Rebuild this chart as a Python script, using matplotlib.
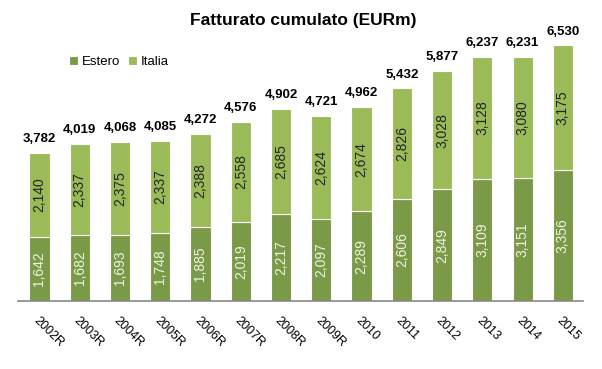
import matplotlib.pyplot as plt
import numpy as np

plt.rcParams['font.family'] = ['Liberation Sans', 'DejaVu Sans']

anni = ['2002R', '2003R', '2004R', '2005R', '2006R', '2007R', '2008R', '2009R',
        '2010', '2011', '2012', '2013', '2014', '2015']
estero = [1642, 1682, 1693, 1748, 1885, 2019, 2217, 2097, 2289, 2606, 2849, 3109, 3151, 3356]
italia = [2140, 2337, 2375, 2337, 2388, 2558, 2685, 2624, 2674, 2826, 3028, 3128, 3080, 3175]
totale = [3782, 4019, 4068, 4085, 4272, 4576, 4902, 4721, 4962, 5432, 5877, 6237, 6231, 6530]

c_estero = '#7a9a47'
c_italia = '#9bbb59'

fig = plt.figure(figsize=(6.02, 3.69), dpi=100)
ax = fig.add_axes([18.5 / 602, 68 / 369, 564.5 / 602, 274 / 369])

x = np.arange(len(anni))
w = 0.5
ax.bar(x, estero, w, color=c_estero, edgecolor='white', linewidth=0.8, label='Estero')
ax.bar(x, italia, w, bottom=estero, color=c_italia, edgecolor='white', linewidth=0.8, label='Italia')

for i in range(len(anni)):
    ax.text(x[i], estero[i] / 2, f'{estero[i]:,}', rotation=90, ha='center', va='center',
            fontsize=10, color='#eef4e2')
    ax.text(x[i], estero[i] + italia[i] / 2, f'{italia[i]:,}', rotation=90, ha='center',
            va='center', fontsize=10, color='#222222')
    ax.text(x[i], totale[i] + 200, f'{totale[i]:,}', ha='center', va='bottom',
            fontsize=9.5, fontweight='bold', color='black')

ax.set_xlim(-0.52, 13.5)
ax.set_ylim(0, 7000)
ax.set_yticks([])
ax.set_xticks(x)
ax.set_xticklabels(anni, rotation=-45, ha='left', va='top', rotation_mode='anchor', fontsize=9)
ax.tick_params(axis='x', length=0, pad=10)
for s in ['top', 'right', 'left']:
    ax.spines[s].set_visible(False)
ax.spines['bottom'].set_color('#888888')
ax.spines['bottom'].set_linewidth(1.2)

fig.text(303 / 602, 1 - 21 / 369, 'Fatturato cumulato (EURm)', ha='center', va='center',
         fontsize=12.5, fontweight='bold')
fig.legend(loc='center left', bbox_to_anchor=(62 / 602, 1 - 62 / 369), ncol=2, frameon=False,
           fontsize=9.5, handlelength=0.7, handleheight=0.7, handletextpad=0.3,
           columnspacing=0.6, borderpad=0)

plt.savefig('out.png', dpi=100)
